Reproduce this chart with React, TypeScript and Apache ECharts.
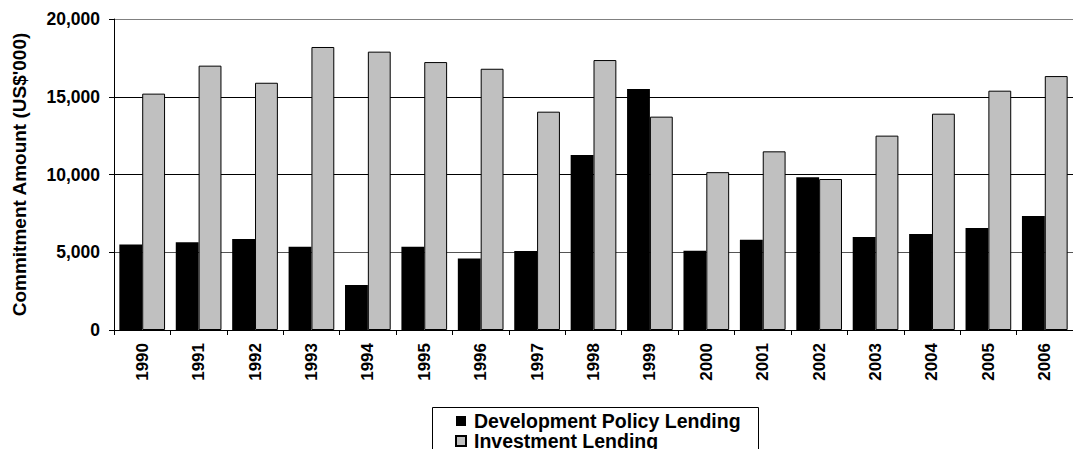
import React, { useEffect, useRef } from "react";
import * as echarts from "echarts";

const years = ["1990","1991","1992","1993","1994","1995","1996","1997","1998","1999","2000","2001","2002","2003","2004","2005","2006"];
const developmentPolicy = [5500, 5650, 5850, 5350, 2900, 5350, 4600, 5080, 11250, 15500, 5100, 5800, 9820, 5980, 6170, 6560, 7330];
const investment = [15200, 17000, 15900, 18200, 17900, 17230, 16800, 14040, 17360, 13720, 10150, 11490, 9710, 12500, 13910, 15390, 16330];
const yTicks = { min: 0, max: 20000, interval: 5000 };
const seriesNames = ["Development Policy Lending", "Investment Lending"];
const yTitle = "Commitment Amount (US$'000)";

const FONT = "'Liberation Sans', Arial, sans-serif";

export default function App() {
  const ref = useRef<HTMLDivElement>(null);
  useEffect(() => {
    if (!ref.current) return;
    const chart = echarts.init(ref.current, undefined, { renderer: "svg" });
    chart.setOption({
      animation: false,
      backgroundColor: "#ffffff",
      textStyle: { fontFamily: FONT },
      grid: { left: 114, top: 19, width: 967, bottom: 119, containLabel: false },
      legend: {
        orient: "vertical",
        left: 455,
        top: 411,
        height: 60,
        itemWidth: 10,
        itemHeight: 10,
        itemGap: 0,
        icon: "rect",
        padding: 0,
        data: seriesNames,
        textStyle: {
          fontFamily: FONT,
          fontWeight: "bold",
          fontSize: 19.5,
          color: "#000",
          padding: [0, 0, 0, 3],
          lineHeight: 19,
        },
      },
      graphic: [
        {
          type: "rect",
          left: 432,
          top: 407,
          z: -1,
          shape: { x: 0, y: 0, width: 326, height: 60 },
          style: { fill: "#fff", stroke: "#000", lineWidth: 1 },
        },
      ],
      xAxis: {
        type: "category",
        data: years,
        boundaryGap: true,
        axisLine: { lineStyle: { color: "#000", width: 1 } },
        axisTick: { show: true, length: 5, lineStyle: { color: "#000" } },
        axisLabel: {
          rotate: 90,
          margin: 13,
          fontFamily: FONT,
          fontWeight: "bold",
          fontSize: 17,
          color: "#000",
        },
      },
      yAxis: {
        type: "value",
        min: yTicks.min,
        max: yTicks.max,
        interval: yTicks.interval,
        name: yTitle,
        nameLocation: "middle",
        nameGap: 85,
        nameRotate: 90,
        nameTextStyle: { fontFamily: FONT, fontWeight: "bold", fontSize: 19, color: "#000" },
        axisLine: { show: true, lineStyle: { color: "#000", width: 1 } },
        axisTick: { show: true, length: 5, lineStyle: { color: "#000" } },
        axisLabel: {
          margin: 14,
          fontFamily: FONT,
          fontWeight: "bold",
          fontSize: 17.5,
          color: "#000",
          formatter: (v: number) => v.toLocaleString("en-US"),
        },
        splitLine: {
          show: true,
          lineStyle: { color: ["#000", "#555", "#000", "#000", "#808080"], width: 1 },
        },
      },
      series: [
        {
          name: seriesNames[0],
          type: "bar",
          data: developmentPolicy,
          barGap: "0%",
          barCategoryGap: "19%",
          itemStyle: { color: "#000000", borderColor: "#000", borderWidth: 0 },
        },
        {
          name: seriesNames[1],
          type: "bar",
          data: investment,
          barGap: "0%",
          barCategoryGap: "19%",
          itemStyle: { color: "#C0C0C0", borderColor: "#000", borderWidth: 1 },
        },
      ],
    });
    return () => chart.dispose();
  }, []);
  return <div ref={ref} style={{ width: 1073, height: 449, position: "absolute", left: 0, top: 0 }} />;
}
